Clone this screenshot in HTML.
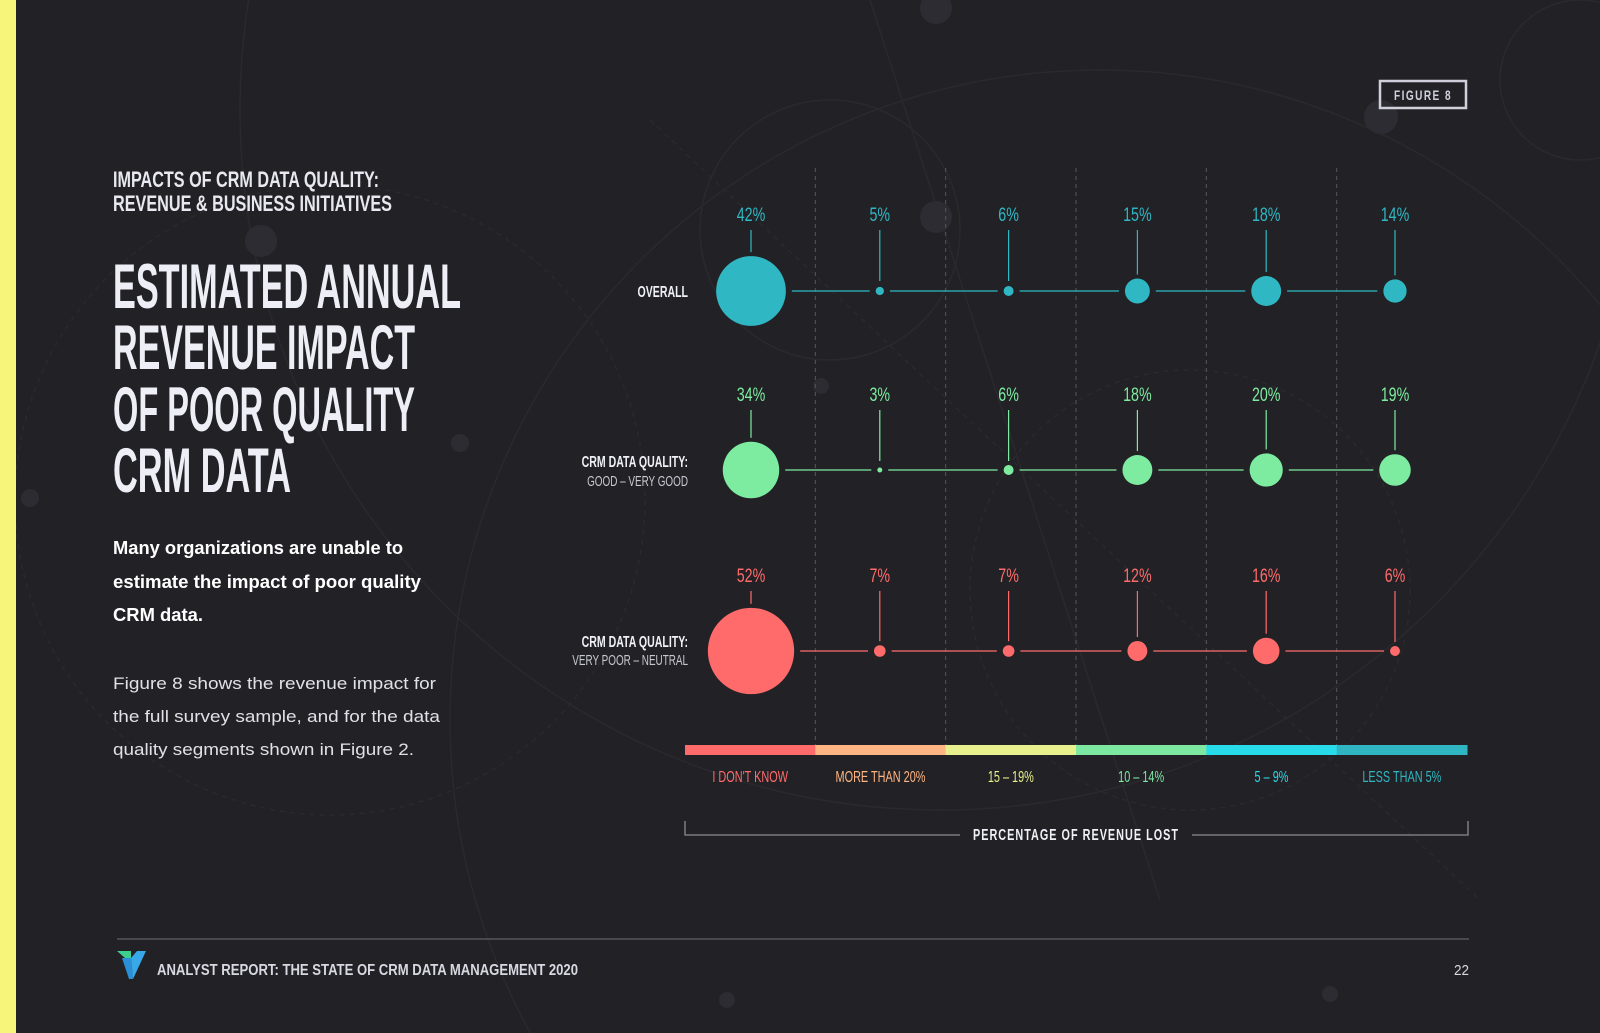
<!DOCTYPE html>
<html><head><meta charset="utf-8"><style>
html,body{margin:0;padding:0;background:#222226;overflow:hidden;width:1600px;height:1033px;}
svg{display:block;overflow:hidden;}
text{font-family:"Liberation Sans Narrow","Liberation Sans",sans-serif;}
</style></head><body>
<svg id="chart" width="1600" height="1033" viewBox="0 0 1600 1033" style="overflow:hidden">
<rect width="1600" height="1033" fill="#222226"/>
<g fill="none" stroke="#29292e" stroke-width="1.5">
  <circle cx="330" cy="500" r="315" stroke-dasharray="5 5"/>
  <circle cx="940" cy="110" r="700"/>
  <circle cx="1100" cy="720" r="650"/>
  <circle cx="1190" cy="590" r="220" stroke-dasharray="5 5"/>
  <circle cx="1580" cy="80" r="80"/>
  <circle cx="830" cy="230" r="130"/>
  <line x1="650" y1="120" x2="1480" y2="900" stroke-dasharray="5 5"/>
  <line x1="870" y1="0" x2="1160" y2="900"/>
</g>
<g fill="#2c2c32">
  <circle cx="936" cy="8" r="16"/><circle cx="1381" cy="117" r="17"/>
  <circle cx="936" cy="217" r="16"/><circle cx="261" cy="241" r="16"/>
  <circle cx="460" cy="443" r="9"/><circle cx="30" cy="498" r="9"/>
  <circle cx="821" cy="386" r="8"/><circle cx="727" cy="1000" r="8"/>
  <circle cx="1330" cy="994" r="8"/>
</g>
<rect x="0" y="0" width="16" height="1033" fill="#f7f57a"/>

<rect x="1380" y="81" width="86" height="27" fill="none" stroke="#d0d0dc" stroke-width="2.5"/>
<text x="1423" y="100" text-anchor="middle" font-size="14" font-weight="bold" fill="#d0d0dc" letter-spacing="2" textLength="58" lengthAdjust="spacingAndGlyphs">FIGURE 8</text>

<text x="113" y="187" font-size="22" font-weight="bold" fill="#e8e8f0" textLength="266" lengthAdjust="spacingAndGlyphs">IMPACTS OF CRM DATA QUALITY:</text>
<text x="113" y="211" font-size="22" font-weight="bold" fill="#e8e8f0" textLength="279" lengthAdjust="spacingAndGlyphs">REVENUE &amp; BUSINESS INITIATIVES</text>

<g font-size="63" font-weight="bold" fill="#eeeef6">
<text x="113" y="308" textLength="348" lengthAdjust="spacingAndGlyphs">ESTIMATED ANNUAL</text>
<text x="113" y="369" textLength="302" lengthAdjust="spacingAndGlyphs">REVENUE IMPACT</text>
<text x="113" y="431" textLength="302" lengthAdjust="spacingAndGlyphs">OF POOR QUALITY</text>
<text x="113" y="492" textLength="178" lengthAdjust="spacingAndGlyphs">CRM DATA</text>
</g>
<g font-size="18" font-weight="bold" fill="#ffffff">
<text x="113" y="554" textLength="290" lengthAdjust="spacingAndGlyphs" style="font-family:'Liberation Sans',sans-serif">Many organizations are unable to</text>
<text x="113" y="588" textLength="308" lengthAdjust="spacingAndGlyphs" style="font-family:'Liberation Sans',sans-serif">estimate the impact of poor quality</text>
<text x="113" y="621" textLength="90" lengthAdjust="spacingAndGlyphs" style="font-family:'Liberation Sans',sans-serif">CRM data.</text>
</g>
<g font-size="17" fill="#e0e0e8">
<text x="113" y="689" textLength="323" lengthAdjust="spacingAndGlyphs" style="font-family:'Liberation Sans',sans-serif">Figure 8 shows the revenue impact for</text>
<text x="113" y="722" textLength="327" lengthAdjust="spacingAndGlyphs" style="font-family:'Liberation Sans',sans-serif">the full survey sample, and for the data</text>
<text x="113" y="755" textLength="301" lengthAdjust="spacingAndGlyphs" style="font-family:'Liberation Sans',sans-serif">quality segments shown in Figure 2.</text>
</g>

<g id="plot"></g>

<line x1="117" y1="939" x2="1469" y2="939" stroke="#55555c" stroke-width="1.5"/>
<g>
<polygon points="117,951 131,951 131,958 125,958" fill="#3ccf8e"/>
<polygon points="122,958 131,958 133,979 129,979" fill="#2a8fd6"/>
<polygon points="131,958 137,951 146,951 133,979" fill="#38a8e8"/>
</g>
<text x="157" y="975" font-size="16" font-weight="bold" fill="#d8d8e2" textLength="421" lengthAdjust="spacingAndGlyphs">ANALYST REPORT: THE STATE OF CRM DATA MANAGEMENT 2020</text>
<text x="1469" y="975" text-anchor="end" font-size="15" fill="#d8d8e2" textLength="15" lengthAdjust="spacingAndGlyphs">22</text>
</svg>
<script>
const categories = ["I DON'T KNOW","MORE THAN 20%","15 – 19%","10 – 14%","5 – 9%","LESS THAN 5%"];
const rowNames = ["overall","good-very-good","very-poor-neutral"];
const overallValues = [42,5,6,15,18,14];
const goodValues = [34,3,6,18,20,19];
const poorValues = [52,7,7,12,16,6];
const catColors = ["#ff6b6b","#ffb684","#e8f08e","#7de8a2","#28dbe9","#2fb6c2"];
const rowColors = ["#2fb8c4","#7deca0","#ff6b6b"];

const NS="http://www.w3.org/2000/svg";
const plot=document.getElementById('plot');
const x0=685, x1=1467, segW=(x1-x0)/categories.length;
function segCenter(i){return x0+segW*(i+0.5);}
function xPos(i){return 751+128.8*i;}
function rPos(v){return v*0.83;}
const rowY=[291,470,651];
const labelY=[221,401,582];
function mk(tag,attrs,parent){const e=document.createElementNS(NS,tag);for(const k in attrs)e.setAttribute(k,attrs[k]);(parent||plot).appendChild(e);return e;}
function narrow(el,f){const w=el.getComputedTextLength();el.setAttribute('textLength',(w*f).toFixed(1));el.setAttribute('lengthAdjust','spacingAndGlyphs');}

for(let i=1;i<categories.length;i++){
  const l=mk('line',{x1:x0+segW*i,x2:x0+segW*i,y1:168,y2:745,stroke:'#55555c','stroke-width':1,'stroke-dasharray':'4 4'});
  
  
}
categories.forEach((c,i)=>{
  const r=mk('rect',{x:x0+segW*i,y:745,width:segW+0.5,height:10,fill:catColors[i]});
  
  
  const t=mk('text',{x:segCenter(i),y:782,'text-anchor':'middle','font-size':16,fill:catColors[i]});
  t.textContent=c;
  
  
  narrow(t,0.68);
});

const series=[overallValues,goodValues,poorValues];
series.forEach((vals,ri)=>{
  const col=rowColors[ri], y=rowY[ri];
  for(let i=0;i<vals.length-1;i++){
    const a=xPos(i)+rPos(vals[i])+6, b=xPos(i+1)-rPos(vals[i+1])-6;
    if(b>a){const l=mk('line',{x1:a,x2:b,y1:y,y2:y,stroke:col,'stroke-width':1.2});
    
    }
  }
  vals.forEach((v,i)=>{
    const cx=xPos(i), r=rPos(v);
    const s=mk('line',{x1:cx,x2:cx,y1:labelY[ri]+9,y2:Math.min(y-r-4,labelY[ri]+60),stroke:col,'stroke-width':1.2});
    
    
    const c=mk('circle',{cx:cx,cy:y,r:r,fill:col});
    
    
    const t=mk('text',{x:cx,y:labelY[ri],'text-anchor':'middle','font-size':19,fill:col});
    t.textContent=v+'%';
    
    
    narrow(t,0.75);
  });
});

const rowLabels=[[ ["OVERALL",297,true] ],[ ["CRM DATA QUALITY:",467,true],["GOOD – VERY GOOD",486,false] ],[ ["CRM DATA QUALITY:",647,true],["VERY POOR – NEUTRAL",665,false] ]];
rowLabels.forEach(lines=>lines.forEach(([txt,y,b])=>{
  const t=mk('text',{x:688,y:y,'text-anchor':'end','font-size':b?16:15,'font-weight':b?'bold':'normal',fill:b?'#f0f0f8':'#c8c8d2'});
  t.textContent=txt;
  
  
  narrow(t,0.66);
}));

const br=mk('path',{d:'M685,821 V835 H960 M1192,835 H1468 V821',fill:'none',stroke:'#8a8a92','stroke-width':1.3});


const at=mk('text',{x:1076,y:840,'text-anchor':'middle','font-size':16,'font-weight':'bold',fill:'#f0f0f8','letter-spacing':'1.5'});
at.textContent='PERCENTAGE OF REVENUE LOST';


at.setAttribute('textLength','206');
at.setAttribute('lengthAdjust','spacingAndGlyphs');
</script>
</body></html>
